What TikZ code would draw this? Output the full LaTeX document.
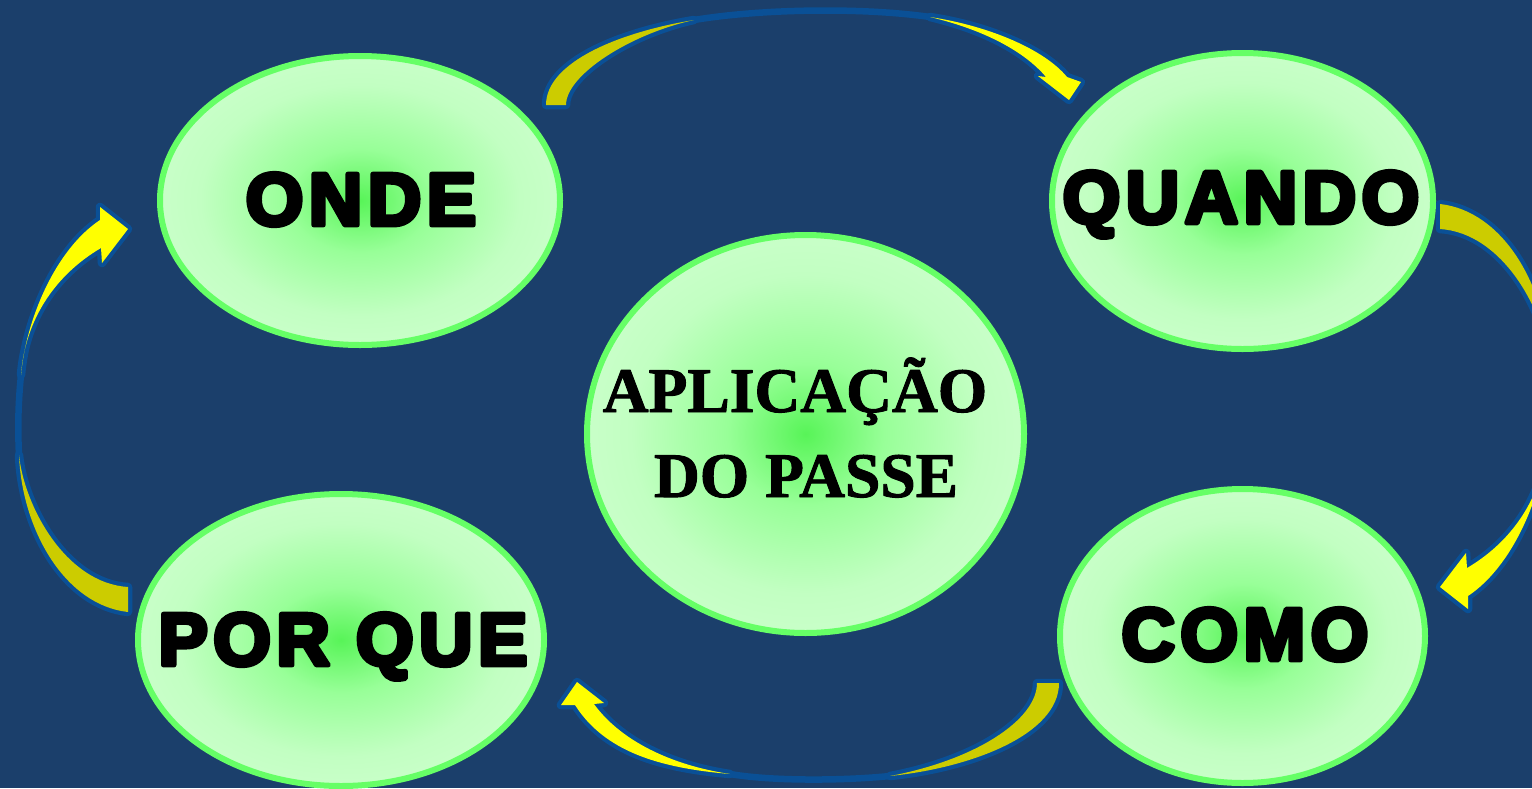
\documentclass[tikz,border=0pt]{standalone}
\usepackage{fontspec}
\usetikzlibrary{shapes.geometric}
\setmainfont{Liberation Serif}
\font\lblfont="Liberation Sans/B:embolden=6.5;letterspace=7.5" at 74pt
\font\ctrfont="Liberation Serif/B:embolden=1.5" at 63.5pt
\definecolor{bg}{HTML}{1B3F6B}
\definecolor{arrblue}{HTML}{0A5096}
\definecolor{olivefill}{HTML}{CCCC00}
\definecolor{yellowfill}{HTML}{FFFF00}
\definecolor{gborder}{HTML}{66FF66}
\definecolor{gcen}{HTML}{58F458}
\definecolor{gmid}{HTML}{98FF98}
\definecolor{gedge}{HTML}{C2FFC2}
\definecolor{gout}{HTML}{C8FFC8}
\pgfdeclareradialshading{gball}{\pgfpoint{0bp}{0bp}}{color(0bp)=(gcen); color(9bp)=(gmid); color(20bp)=(gedge); color(25bp)=(gout); color(50bp)=(gout)}
\tikzset{
  blob/.style={ellipse, draw=gborder, line width=6pt, shading=gball, inner sep=0pt},
  lbl/.style={font=\lblfont, text=black, inner sep=0pt, anchor=base, line join=round},
  ctr/.style={font=\ctrfont, text=black, inner sep=0pt, anchor=base, line join=round},
  arrout/.style={preaction={draw=arrblue, line width=8.5pt, line join=round}},
  tailfill/.style={arrout, fill=olivefill},
  headfill/.style={arrout, fill=yellowfill},
  band/.style={draw=arrblue, line width=6.5pt, line cap=round},
}
\newcommand\sideArrowShape{%
  \draw[band] (19,455) .. controls (17.5,425) and (18.5,400) .. (21,375);
  \path[tailfill] (128,612) .. controls (65,605) and (22,530) .. (19,455) .. controls (24,505) and (65,583) .. (128,587) -- cycle;
  \path[headfill] (21,375) .. controls (26,320) and (55,250) .. (100,220) -- (100,207) -- (128,229) -- (102,263) -- (101,248) .. controls (55,275) and (25,320) .. (21,375) -- cycle;
}
\begin{document}
\begin{tikzpicture}[x=1pt,y=-1pt]
\useasboundingbox (0,0) rectangle (1532,788);
\fill[bg] (0,0) rectangle (1532,788);

% top arrow: ONDE -> QUANDO
\draw[band] (694,20) .. controls (760,9) and (860,7) .. (930,17);
\path[tailfill] (546,105) .. controls (546,62) and (620,32) .. (694,20) .. controls (630,34) and (566,75) .. (566,105) -- cycle;
\path[headfill] (930,17) .. controls (990,26) and (1045,50) .. (1067,77) -- (1081,82) -- (1069,100) -- (1038,76) -- (1046,77) .. controls (1025,52) and (985,30) .. (930,17) -- cycle;

% left arrow: POR QUE -> ONDE
\sideArrowShape

% right arrow: QUANDO -> COMO (rotated copy)
\begin{scope}[shift={(1568,816)}, xscale=-1, yscale=-1]
\sideArrowShape
\end{scope}

% bottom arrow: COMO -> POR QUE
\draw[band] (890,776) .. controls (840,781) and (770,781) .. (730,774);
\path[tailfill] (1059,683) .. controls (1059,735) and (970,768) .. (890,776) .. controls (975,760) and (1037,720) .. (1037,683) -- cycle;
\path[headfill] (730,774) .. controls (660,768) and (605,752) .. (575,705) -- (561,705) -- (577,682) -- (604,703) -- (594,704) .. controls (620,740) and (670,765) .. (730,774) -- cycle;

% ellipses
\node[blob, minimum width=400pt, minimum height=289pt] (onde) at (360,200.5) {};
\node[blob, minimum width=381pt, minimum height=296pt] (quando) at (1242.5,201) {};
\node[blob, minimum width=437pt, minimum height=398pt] (centro) at (805.5,434) {};
\node[blob, minimum width=406pt, minimum height=292pt] (porque) at (341,640) {};
\node[blob, minimum width=365pt, minimum height=294pt] (como) at (1242.5,636) {};

% labels
\node[lbl] (tonde) at (361,225) {ONDE};
\node[lbl] (tquando) at (1241,223) {QUANDO};
\node[lbl] (tporque) at (343,665) {POR QUE};
\node[lbl] (tcomo) at (1245,660) {COMO};
\node[ctr] (tapl) at (795,412) {APLICAÇÃO};
\node[ctr] (tdo) at (806,497) {DO PASSE};
\end{tikzpicture}
\end{document}
